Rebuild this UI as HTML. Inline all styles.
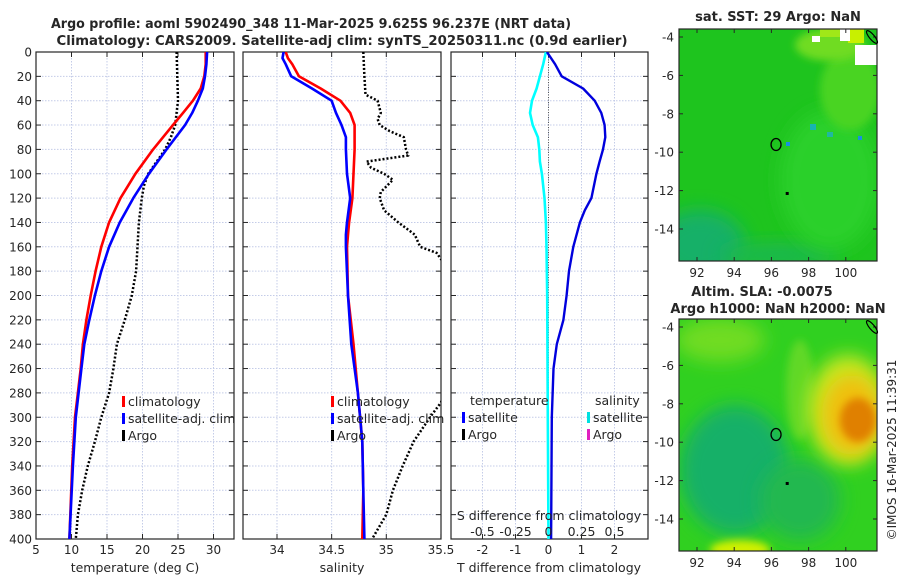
<!DOCTYPE html>
<html><head><meta charset="utf-8"><style>
html,body{margin:0;padding:0;background:#fff;width:900px;height:580px;overflow:hidden}
svg text{font-family:"DejaVu Sans","Liberation Sans",sans-serif;fill:#262626}
</style></head><body>
<svg id="chart" width="900" height="580" viewBox="0 0 900 580" xmlns="http://www.w3.org/2000/svg">
<defs>
<clipPath id="c1"><rect x="36" y="52" width="198" height="487"/></clipPath>
<clipPath id="c2"><rect x="243" y="52" width="198" height="487"/></clipPath>
<clipPath id="c3"><rect x="451" y="52" width="197" height="487"/></clipPath>
<clipPath id="cm1"><rect x="679" y="29" width="198" height="232"/></clipPath>
<clipPath id="cm2"><rect x="679" y="319" width="198" height="232"/></clipPath>
<filter id="bl" x="-50%" y="-50%" width="200%" height="200%"><feGaussianBlur stdDeviation="9"/></filter>
<filter id="bl2" x="-50%" y="-50%" width="200%" height="200%"><feGaussianBlur stdDeviation="4"/></filter>
</defs>
<text x="311" y="28" font-size="13" font-weight="bold" text-anchor="middle" textLength="520" lengthAdjust="spacingAndGlyphs">Argo profile: aoml 5902490_348 11-Mar-2025 9.625S 96.237E (NRT data)</text>
<text x="342" y="45" font-size="13" font-weight="bold" text-anchor="middle" textLength="571" lengthAdjust="spacingAndGlyphs">Climatology: CARS2009. Satellite-adj clim: synTS_20250311.nc (0.9d earlier)</text>
<g id="p1"></g>
<g id="p2"></g>
<g id="p3"></g>
<g id="m1" clip-path="url(#cm1)">
  <rect x="679" y="29" width="198" height="232" fill="#1ec41e"/>
  <ellipse cx="700" cy="245" rx="45" ry="35" fill="#16b068" filter="url(#bl)"/>
  <ellipse cx="780" cy="255" rx="60" ry="12" fill="#1ab850" filter="url(#bl)"/>
  <ellipse cx="830" cy="180" rx="50" ry="70" fill="#2ad02a" filter="url(#bl)"/>
  <ellipse cx="850" cy="90" rx="30" ry="40" fill="#48d424" filter="url(#bl2)"/>
  <ellipse cx="830" cy="45" rx="35" ry="16" fill="#70dc20" filter="url(#bl2)"/>
  <rect x="848" y="29" width="16" height="14" fill="#c8f000"/>
  <rect x="820" y="29" width="26" height="8" fill="#a0e818"/>
  <rect x="855" y="45" width="22" height="20" fill="#fff"/>
  <rect x="840" y="29" width="10" height="12" fill="#fff"/>
  <rect x="812" y="36" width="8" height="6" fill="#fff"/>
  <rect x="810" y="124" width="6" height="6" fill="#18b4b0"/>
  <rect x="827" y="132" width="6" height="5" fill="#20b8a0"/>
  <rect x="858" y="136" width="4" height="4" fill="#1890e0"/>
  <rect x="786" y="142" width="4" height="4" fill="#1890e0"/>
</g>
<g id="m2" clip-path="url(#cm2)">
  <rect x="679" y="319" width="198" height="232" fill="#30d020"/>
  <ellipse cx="735" cy="470" rx="55" ry="65" fill="#18b068" filter="url(#bl)"/>
  <ellipse cx="800" cy="500" rx="40" ry="40" fill="#20b850" filter="url(#bl)"/>
  <ellipse cx="720" cy="340" rx="45" ry="22" fill="#70dc20" filter="url(#bl)"/>
  <ellipse cx="800" cy="390" rx="14" ry="50" fill="#60d828" filter="url(#bl2)"/>
  <ellipse cx="740" cy="550" rx="30" ry="10" fill="#d0f000" filter="url(#bl2)"/>
  <ellipse cx="848" cy="410" rx="40" ry="55" fill="#c8e820" filter="url(#bl)"/>
  <ellipse cx="852" cy="415" rx="30" ry="40" fill="#f0c010" filter="url(#bl)"/>
  <ellipse cx="858" cy="420" rx="18" ry="22" fill="#e08000" filter="url(#bl2)"/>
</g>
<text x="778" y="21" font-size="13" font-weight="bold" text-anchor="middle">sat. SST: 29 Argo: NaN</text>
<text x="762" y="296" font-size="13" font-weight="bold" text-anchor="middle">Altim. SLA: -0.0075</text>
<text x="778" y="313" font-size="13" font-weight="bold" text-anchor="middle">Argo h1000: NaN h2000: NaN</text>
<text x="0" y="0" font-size="12" text-anchor="middle" transform="translate(896,450) rotate(-90)">©IMOS 16-Mar-2025 11:39:31</text>
</svg>
<script>
// ---- data ----
const depthT = [0,10,20,30,40,50,60,80,100,120,140,160,180,200,220,240,260,280,300,340,400];
const tempClim = [28.9,28.9,28.7,28.2,27.1,25.7,24.3,21.5,19.0,16.9,15.3,14.2,13.4,12.7,12.1,11.6,11.3,10.9,10.5,10.1,9.7];
const tempSat = [29.1,29.0,28.8,28.5,27.8,27.0,26.0,23.4,20.9,18.7,16.8,15.3,14.2,13.3,12.5,11.8,11.4,11.0,10.6,10.2,9.7];
const depthArgoT = [0,20,40,60,70,80,90,100,110,120,140,160,180,200,220,240,260,280,300,320,340,360,380,400];
const tempArgo = [24.8,24.9,25.0,24.6,24.0,23.2,22.0,20.8,20.2,19.9,19.5,19.3,19.1,18.5,17.5,16.4,15.9,15.3,14.2,13.3,12.3,11.5,10.9,10.6];
const depthS = [0,5,10,20,30,40,50,60,70,80,100,120,140,150,160,200,240,280,320,360,400];
const salClim = [34.08,34.10,34.14,34.20,34.40,34.58,34.67,34.71,34.71,34.71,34.70,34.69,34.66,34.65,34.64,34.65,34.70,34.74,34.78,34.79,34.78];
const salSat = [34.06,34.05,34.08,34.13,34.32,34.50,34.54,34.59,34.63,34.63,34.64,34.67,34.64,34.63,34.63,34.65,34.68,34.74,34.78,34.79,34.80];
const depthArgoS = [0,20,35,40,50,55,60,65,70,80,85,90,95,100,105,115,120,130,140,150,160,165,170,180,250,288,300,320,340,360,380,400];
const salArgo = [34.79,34.80,34.81,34.92,34.95,34.92,34.94,35.03,35.16,35.18,35.20,34.82,34.86,34.98,35.06,34.95,34.94,34.98,35.11,35.26,35.31,35.46,35.50,35.60,35.70,35.50,35.40,35.25,35.15,35.06,35.00,34.87];
const depthD = [0,10,20,30,40,50,60,70,80,90,100,120,130,140,160,180,200,220,240,260,300,400];
const tDiffSat = [-0.05,0.2,0.4,1.05,1.4,1.6,1.7,1.72,1.65,1.55,1.45,1.3,1.1,0.95,0.75,0.62,0.55,0.45,0.25,0.15,0.1,0.08];
const depthDS = [0,10,20,30,40,50,60,70,80,90,100,120,140,160,200,300,400];
const sDiffSat = [-0.02,-0.04,-0.065,-0.09,-0.125,-0.14,-0.12,-0.08,-0.07,-0.065,-0.05,-0.03,-0.02,-0.015,-0.01,-0.005,0];
const depthTicks = [0,20,40,60,80,100,120,140,160,180,200,220,240,260,280,300,320,340,360,380,400];
const tempTicks = [5,10,15,20,25,30];
const salTicks = [34,34.5,35,35.5];
const tdTicks = [-2,-1,0,1,2];
const sdTicks = [-0.5,-0.25,0,0.25,0.5];
const sdTickLabels = ["-0.5","-0.25","0","0.25","0.5"];
const lonTicks = [92,94,96,98,100];
const latTicks = [-4,-6,-8,-10,-12,-14];
const argoLon = 96.25, argoLat = -9.6;

// ---- scales ----
const Y0=52, Y1=539;
const yD = d => Y0 + d/400*(Y1-Y0);
const xT = v => 36 + (v-5)*7.1;
const xS = v => 277 + (v-34)*109.3;
const xTD = v => 548.5 + v*33;
const xSD = v => 548.5 + v*132;
const mLon = v => 697 + (v-92)*18.6;
const mLat1 = v => 37 + (-4 - v)*19.2;
const mLat2 = v => 327 + (-4 - v)*19.2;

const NS='http://www.w3.org/2000/svg';
function mk(tag, attrs, parent){const e=document.createElementNS(NS,tag);for(const k in attrs)e.setAttribute(k,attrs[k]);parent.appendChild(e);return e;}

function frame(g, x0, x1, xt, xs, labels, showY){
  depthTicks.forEach(d=>{
    const y=yD(d);
    const gl=mk('line',{x1:x0,x2:x1,y1:y,y2:y,stroke:'#c4cce8','stroke-width':1,'stroke-dasharray':'1.5 1.5'},g);
    
    
    mk('line',{x1:x0,x2:x0+5,y1:y,y2:y,stroke:'#262626'},g);
    mk('line',{x1:x1-5,x2:x1,y1:y,y2:y,stroke:'#262626'},g);
    if(showY){const t=mk('text',{x:x0-4,y:y+4.5,'font-size':12,'text-anchor':'end'},g);t.textContent=d;
      
      }
  });
  xt.forEach((v,i)=>{
    const x=xs(v);
    if(x>x0+1&&x<x1-1){
      const gl=mk('line',{x1:x,x2:x,y1:Y0,y2:Y1,stroke:'#c4cce8','stroke-width':1,'stroke-dasharray':'1.5 1.5'},g);
      
      
    }
    mk('line',{x1:x,x2:x,y1:Y1,y2:Y1-5,stroke:'#262626'},g);
    mk('line',{x1:x,x2:x,y1:Y0,y2:Y0+5,stroke:'#262626'},g);
    const t=mk('text',{x:x,y:554,'font-size':12,'text-anchor':'middle'},g);t.textContent=labels[i];
    
    
  });
  const r=mk('rect',{x:x0,y:Y0,width:x1-x0,height:Y1-Y0,fill:'none',stroke:'#262626','stroke-width':1.2},g);
  
  
}
function line(g, xs, vals, depths, color, w, dash, clip, name){
  const pts=vals.map((v,i)=>xs(v).toFixed(1)+','+yD(depths[i]).toFixed(1)).join(' ');
  const a={points:pts,fill:'none',stroke:color,'stroke-width':w,'stroke-linejoin':'round','clip-path':'url(#'+clip+')'};
  if(dash)a['stroke-dasharray']=dash;
  const p=mk('polyline',a,g);
  
  
}
function legend(g, x, y, items){
  items.forEach((it,i)=>{
    const yy=y+i*17;
    mk('rect',{x:x,y:yy-10,width:3,height:11,fill:it[1]},g);
    const t=mk('text',{x:x+6,y:yy,'font-size':12.5},g);t.textContent=it[0];
    
    
  });
}
function axTitle(g,x,txt,name){const t=mk('text',{x:x,y:572,'font-size':12.5,'text-anchor':'middle'},g);t.textContent=txt;
  
  }

// panel 1
const p1=document.getElementById('p1');
frame(p1,36,234,tempTicks,xT,tempTicks.map(String),true);
line(p1,xT,tempArgo,depthArgoT,'#000',2.5,'2 2','c1','argo-temperature-line');
line(p1,xT,tempClim,depthT,'#ff0000',2.6,null,'c1','climatology-temperature-line');
line(p1,xT,tempSat,depthT,'#0000ff',2.6,null,'c1','satellite-temperature-line');
legend(p1,122,406,[['climatology','#ff0000'],['satellite-adj. clim','#0000ff'],['Argo','#000']]);
axTitle(p1,135,'temperature (deg C)','x-axis-title-temperature');

// panel 2
const p2=document.getElementById('p2');
frame(p2,243,441,salTicks,xS,['34','34.5','35','35.5'],false);
line(p2,xS,salArgo,depthArgoS,'#000',2.5,'2 2','c2','argo-salinity-line');
line(p2,xS,salClim,depthS,'#ff0000',2.6,null,'c2','climatology-salinity-line');
line(p2,xS,salSat,depthS,'#0000ff',2.6,null,'c2','satellite-salinity-line');
legend(p2,331,406,[['climatology','#ff0000'],['satellite-adj. clim','#0000ff'],['Argo','#000']]);
axTitle(p2,342,'salinity','x-axis-title-salinity');

// panel 3
const p3=document.getElementById('p3');
frame(p3,451,648,tdTicks,xTD,tdTicks.map(String),false);
{const z=mk('line',{x1:xTD(0),x2:xTD(0),y1:Y0,y2:Y1,stroke:'#555','stroke-width':1,'stroke-dasharray':'1 1.5'},p3);
 
 }
line(p3,xSD,sDiffSat,depthDS,'#00ffff',2.6,null,'c3','salinity-difference-line');
line(p3,xTD,tDiffSat,depthD,'#0000dd',2.4,null,'c3','temperature-difference-line');
{const t=mk('text',{x:470,y:405,'font-size':12.5},p3);t.textContent='temperature';
 
 
 const s=mk('text',{x:595,y:405,'font-size':12.5},p3);s.textContent='salinity';
 
 }
legend(p3,462,422,[['satellite','#0000ff'],['Argo','#000']]);
legend(p3,587,422,[['satellite','#00e0e0'],['Argo','#e020c0']]);
{const t=mk('text',{x:549,y:520,'font-size':12.5,'text-anchor':'middle'},p3);t.textContent='S difference from climatology';
 
 }
sdTicks.forEach((v,i)=>{const t=mk('text',{x:xSD(v),y:536,'font-size':12.5,'text-anchor':'middle'},p3);t.textContent=sdTickLabels[i];
 
 });
axTitle(p3,549,'T difference from climatology','x-axis-title-t-difference');

// maps axes
function mapAxes(gid, top, latf){
  const svg=document.getElementById('chart');
  const g=mk('g',{},svg);
  
  
  const bot=top+232;
  lonTicks.forEach(v=>{const x=mLon(v);
    mk('line',{x1:x,x2:x,y1:bot,y2:bot-4,stroke:'#262626'},g);
    mk('line',{x1:x,x2:x,y1:top,y2:top+4,stroke:'#262626'},g);
    const t=mk('text',{x:x,y:bot+16,'font-size':12,'text-anchor':'middle'},g);t.textContent=v;
    
    });
  latTicks.forEach(v=>{const y=latf(v);
    mk('line',{x1:679,x2:683,y1:y,y2:y,stroke:'#262626'},g);
    mk('line',{x1:873,x2:877,y1:y,y2:y,stroke:'#262626'},g);
    const t=mk('text',{x:674,y:y+4.5,'font-size':12,'text-anchor':'end'},g);t.textContent=v;
    
    });
  mk('rect',{x:679,y:top,width:198,height:232,fill:'none',stroke:'#262626','stroke-width':1.2},g);
  const c=mk('ellipse',{cx:mLon(argoLon),cy:latf(argoLat),rx:5,ry:6,fill:'none',stroke:'#000','stroke-width':1.3},g);
  
  
  mk('rect',{x:mLon(96.85)-1.5,y:latf(-12.15)-1.5,width:3,height:3,fill:'#000'},g);
  mk('ellipse',{cx:872,cy:top+8,rx:2.5,ry:8,fill:'none',stroke:'#000','stroke-width':1.2,transform:'rotate(-40 872 '+(top+8)+')'},g);
}
mapAxes('sst-map',29,mLat1);
mapAxes('sla-map',319,mLat2);
</script>
</body></html>
